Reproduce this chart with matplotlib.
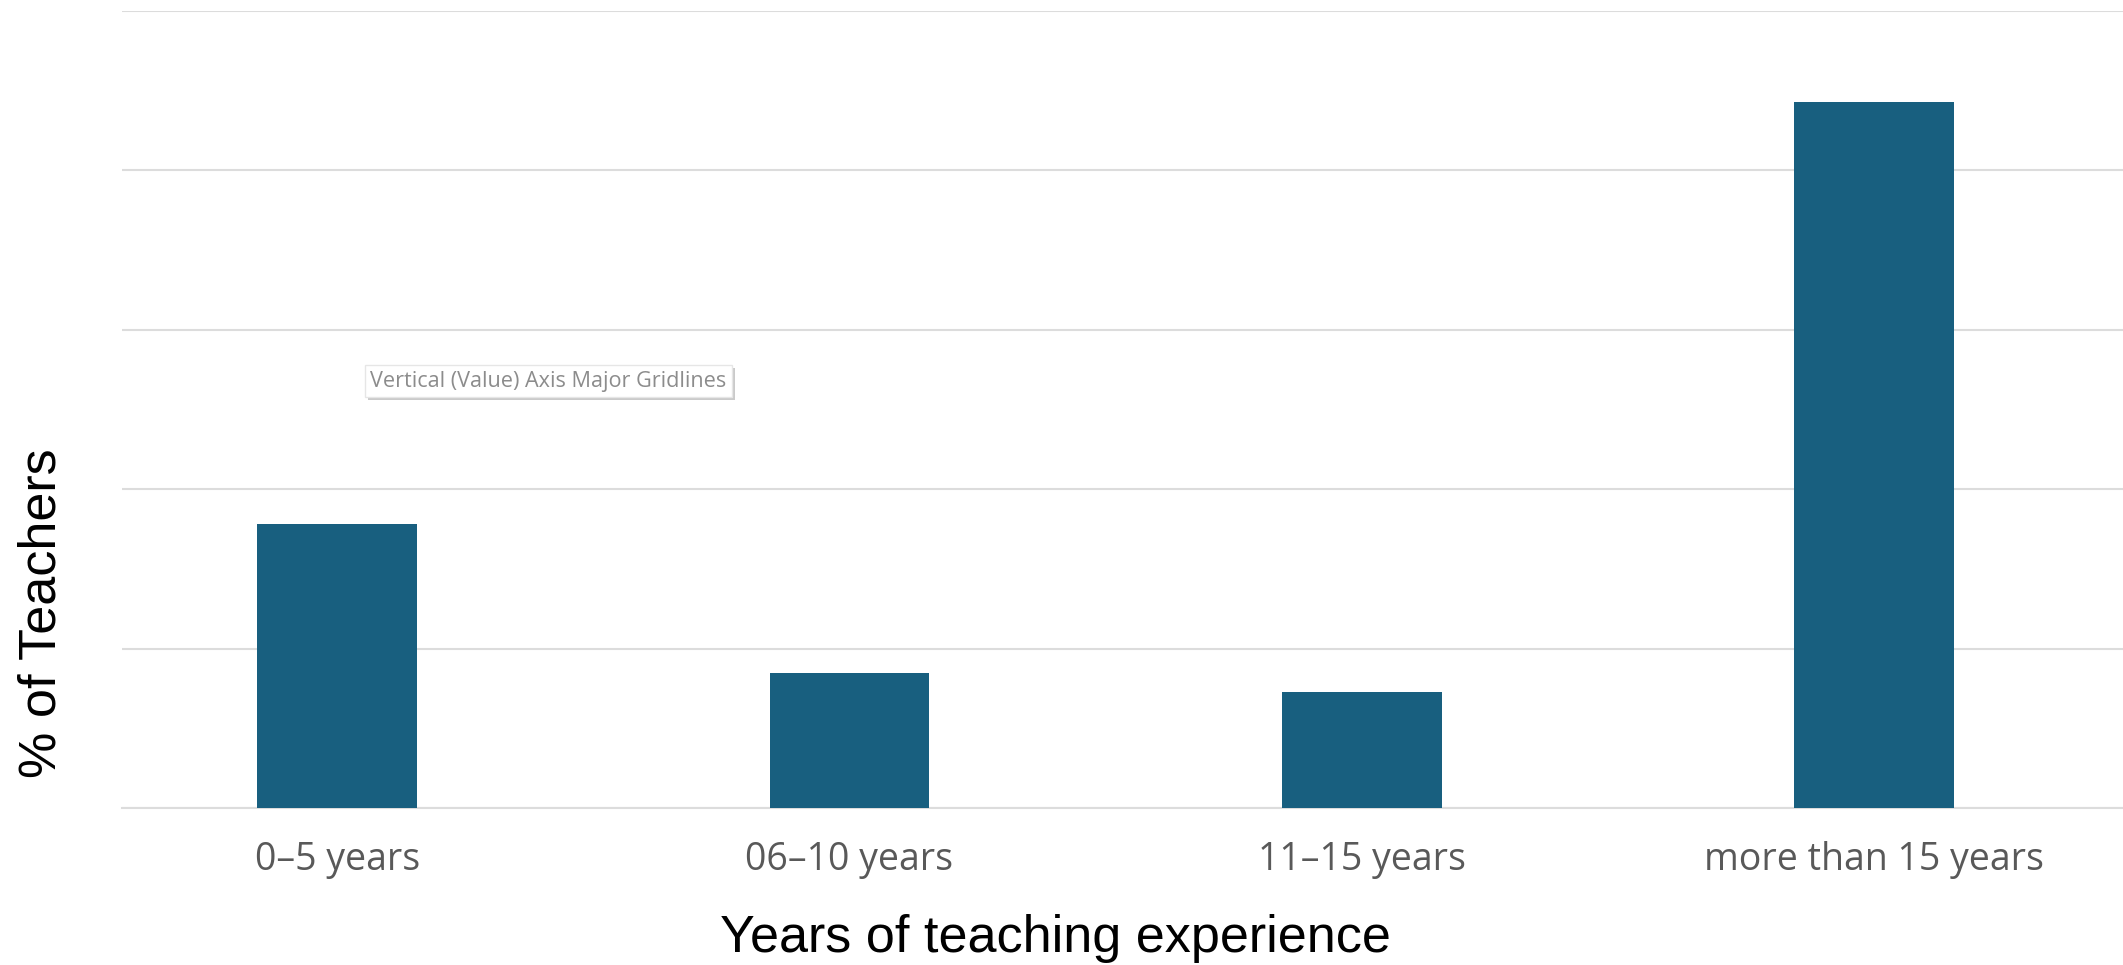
import matplotlib
matplotlib.use("Agg")
from matplotlib import pyplot as plt
import matplotlib.patheffects as pe

# data
categories = ["0–5 years", "06–10 years", "11–15 years", "more than 15 years"]
teachers_pct = [17.8, 8.5, 7.3, 44.3]
grid_ticks = [0, 10, 20, 30, 40, 50]

bar_color = "#185F7F"
grid_color = "#DCDCDC"

fig = plt.figure(figsize=(21.23, 9.65), dpi=100)
ax = fig.add_axes([0.0575, 0.1627, 0.9425, 0.8259])

x = range(len(categories))
ax.bar(x, teachers_pct, width=0.312, color=bar_color, zorder=3)

ax.set_xlim(-0.42, 3.486)
ax.set_ylim(0, 50)
ax.set_yticks(grid_ticks)
ax.set_yticklabels([])
ax.tick_params(axis="y", length=0)
ax.grid(axis="y", color=grid_color, linewidth=1.5, zorder=0)

ax.set_xticks(list(x))
ax.set_xticklabels(categories, fontsize=27, color="#595959",
                   family=["Open Sans", "DejaVu Sans"])
ax.tick_params(axis="x", length=0, pad=24)

for s in ["top", "right", "left"]:
    ax.spines[s].set_visible(False)
ax.spines["bottom"].set_color(grid_color)
ax.spines["bottom"].set_linewidth(1.5)

# axis titles
fig.text(0.497, 0.027, "Years of teaching experience", fontsize=37.5,
         family="Liberation Sans", ha="center", va="center")
fig.text(0.02, 0.365, "% of Teachers", rotation=90, fontsize=37.5,
         family="Liberation Sans", ha="center", va="center")

# the hover tooltip captured in the screenshot
fig.text(0.1745, 0.605, "Vertical (Value) Axis Major Gridlines", fontsize=15.6,
         color="#8C8C8C", family=["Open Sans", "DejaVu Sans"], va="center",
         bbox=dict(boxstyle="square,pad=0.25", facecolor="white",
                   edgecolor="#E6E6E6", linewidth=1,
                   path_effects=[pe.withSimplePatchShadow(offset=(2, -2), shadow_rgbFace="#A8A8A8", alpha=0.6)]))

fig.savefig("out.png", dpi=100)
